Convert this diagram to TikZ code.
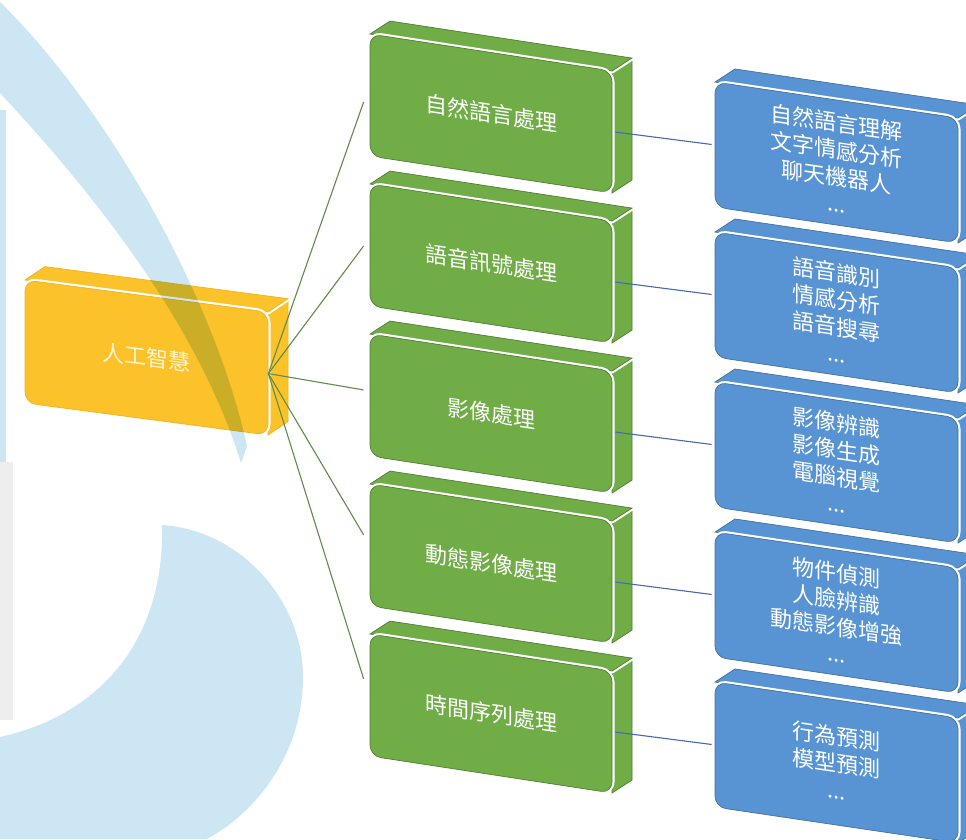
\documentclass[tikz,border=0pt]{standalone}
\usepackage{fontspec}
\newfontfamily\cjk{Noto Sans CJK TC}
\usetikzlibrary{calc}
\definecolor{gfill}{RGB}{112,173,71}
\definecolor{gline}{RGB}{80,126,50}
\definecolor{gtext}{RGB}{255,255,255}
\definecolor{bfill}{RGB}{88,148,212}
\definecolor{bline}{RGB}{65,113,156}
\definecolor{btext}{RGB}{255,255,255}
\definecolor{yfill}{RGB}{252,194,42}
\definecolor{yline}{RGB}{240,180,30}
\definecolor{ytext}{RGB}{255,245,212}
\definecolor{gconn}{RGB}{95,140,70}
\definecolor{bconn}{RGB}{70,105,180}
\definecolor{wmblue}{RGB}{205,230,243}
\definecolor{wmgray}{RGB}{238,238,238}
\newcommand\facebox[8]{%
  \begin{scope}[shift={(#2,#3)}, yslant=-#4]
    \path[face=#7] (#5/2, -#6/2) -- (#5/2, #6/2) -- ++(20,-16) -- (#5/2+20, -#6/2-16) -- cycle;
    \path[face=#7] (-#5/2, -#6/2) -- (#5/2, -#6/2) -- ++(20,-16) -- (-#5/2+20, -#6/2-16) -- cycle;
    \node[front=#7, minimum width=#5pt, minimum height=#6pt] (#1) at (0,0) {#8};
  \end{scope}}
\begin{document}
\begin{tikzpicture}[x=1pt,y=-1pt,
  face/.style={preaction={draw=white,line width=5pt,line join=round}, fill=#1fill, draw=#1line, line width=0.7pt},
  front/.style={rectangle, rounded corners=11pt, inner sep=0pt, face=#1, text=#1text, align=center,
    font=\cjk\fontsize{22}{27}\selectfont, transform shape},
  gconnline/.style={draw=gconn, line width=1.1pt},
  bconnline/.style={draw=bconn, line width=1.1pt},
  wm/.style={fill=wmblue}]
\useasboundingbox[fill=white] (0,0) rectangle (966,839);

% central box
\facebox{ai}{146.5}{357.5}{0.132}{243}{123}{y}{人工智慧}

% green boxes
\facebox{g1}{491}{113.5}{0.153}{242}{122}{g}{自然語言處理}
\facebox{g2}{491}{263.5}{0.153}{242}{122}{g}{語音訊號處理}
\facebox{g3}{491}{413.5}{0.153}{242}{122}{g}{影像處理}
\facebox{g4}{491}{563.5}{0.153}{242}{122}{g}{動態影像處理}
\facebox{g5}{491}{713.5}{0.153}{242}{122}{g}{時間序列處理}

% blue boxes
\facebox{b1}{836.5}{162.5}{0.148}{243}{125}{b}{自然語言理解\\文字情感分析\\聊天機器人\\...}
\facebox{b2}{836.5}{312.5}{0.148}{243}{125}{b}{語音識別\\情感分析\\語音搜尋\\...}
\facebox{b3}{836.5}{462.5}{0.148}{243}{125}{b}{影像辨識\\影像生成\\電腦視覺\\...}
\facebox{b4}{836.5}{612.5}{0.148}{243}{125}{b}{物件偵測\\人臉辨識\\動態影像增強\\...}
\facebox{b5}{836.5}{762.5}{0.148}{243}{125}{b}{行為預測\\模型預測\\...}

% connectors
\foreach \i/\o in {1/7,2/1,3/-5,4/-10,5/-16}
  \draw[gconnline] (ai.east) -- ($(g\i.west)+(-6,\o)$);
\foreach \i in {1,...,5}
  \draw[bconnline] ($(g\i.east)+(3,0)$) -- ($(b\i.west)+(-3,0)$);

% watermark
\begin{scope}[blend mode=multiply]
  \fill[wm] (0,2) .. controls (110,110) and (215,300) .. (247,446)
    -- (241,463) .. controls (200,330) and (100,200) .. (0,93) -- cycle;
  \fill[wm] (162,525) .. controls (240,530) and (303,600) .. (303,677)
    .. controls (303,750) and (260,810) .. (207,839)
    -- (0,839) -- (0,737) .. controls (100,715) and (165,640) .. (162,525) -- cycle;
  \fill[wm] (0,110) rectangle (6,462);
  \fill[wmgray] (0,462) rectangle (13,720);
\end{scope}
\end{tikzpicture}
\end{document}
